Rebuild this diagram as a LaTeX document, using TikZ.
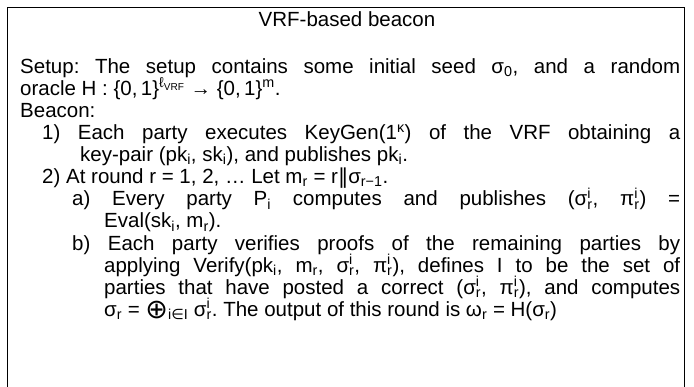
\documentclass[tikz,border=0pt]{standalone}
\usepackage{fontspec}
\setmainfont{Liberation Sans}
\newfontfamily\symfont{DejaVu Sans}
\usetikzlibrary{positioning}

\newcommand{\supsub}[2]{\rlap{\textsuperscript{#1}}\textsubscript{#2}}
\newcommand{\beaconpar}[3]{\par\leftskip=#1\relax\hangindent=#2\relax\hangafter=1\noindent #3\par}
\newcommand{\bigxor}{\raisebox{-2pt}{\symfont\fontsize{27}{27}\selectfont ⊕}}

\tikzset{
  frameline/.style={line width=0.9pt},
  titletext/.style={inner sep=0pt, font=\fontsize{20.5}{22}\selectfont},
  bodytext/.style={inner sep=0pt, anchor=north west, text width=660pt,
    align=justify, font=\fontsize{20.5}{22.1}\selectfont}
}

\begin{document}
\begin{tikzpicture}[x=1pt,y=1pt]
  \useasboundingbox (0,0) rectangle (694,-387);
  % open frame round the text
  \coordinate (bl) at (7,-387);
  \coordinate (tl) at (7,-7);
  \coordinate (tr) at (684,-7);
  \coordinate (br) at (684,-387);
  \draw[frameline] (bl) -- (tl) -- (tr) -- (br);

  \node[titletext] (title) at (347,-19) {VRF-based beacon};

  \node[bodytext] (body) at (20,-51) {\tolerance=10000 \hyphenpenalty=10000
    \frenchspacing \lineskiplimit=-100pt
    \beaconpar{0pt}{0pt}{Setup: The setup contains some initial seed σ\textsubscript{0}, and a random\linebreak
      oracle H : \{0,\,1\}\textsuperscript{ℓ\textsubscript{VRF}} → \{0,\,1\}\textsuperscript{m}.}
    \beaconpar{0pt}{0pt}{Beacon:}
    \beaconpar{22pt}{38pt}{1)~Each party executes KeyGen(1\textsuperscript{κ}) of the VRF obtaining a\linebreak
      key-pair (pk\textsubscript{i}, sk\textsubscript{i}), and publishes pk\textsubscript{i}.}
    \beaconpar{22pt}{38pt}{2)~At round r = 1, 2, … Let m\textsubscript{r} = r{\symfont ‖}σ\textsubscript{r−1}.}
    \beaconpar{52pt}{32pt}{a)~Every party P\textsubscript{i} computes and publishes (σ\supsub{i}{r}, π\supsub{i}{r}) =\linebreak
      Eval(sk\textsubscript{i}, m\textsubscript{r}).}
    \beaconpar{52pt}{32pt}{b)~Each party verifies proofs of the remaining parties by\linebreak
      applying Verify(pk\textsubscript{i}, m\textsubscript{r}, σ\supsub{i}{r}, π\supsub{i}{r}), defines I to be the set of\linebreak
      parties that have posted a correct (σ\supsub{i}{r}, π\supsub{i}{r}), and computes\linebreak
      σ\textsubscript{r} = \bigxor\textsubscript{i{\symfont ∈}I} σ\supsub{i}{r}. The output of this round is ω\textsubscript{r} = H(σ\textsubscript{r})}
  };
\end{tikzpicture}
\end{document}
